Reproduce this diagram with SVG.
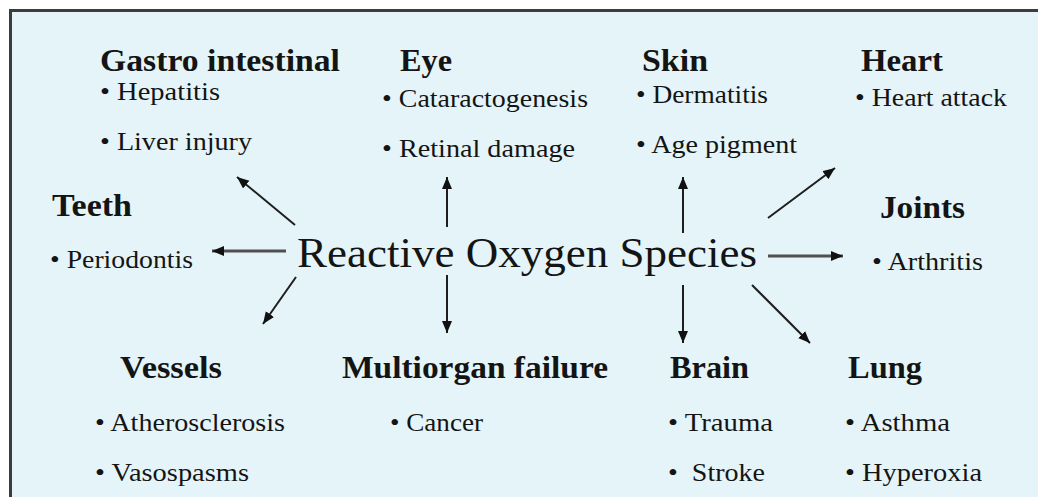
<svg xmlns="http://www.w3.org/2000/svg" width="1038" height="497" viewBox="0 0 1038 497">
<style>
text{fill:#141414}
.h{font-weight:bold;font-size:31px}
.b{font-size:26px}
.t{font-size:43px}
.c{stroke:#1e1e1e;stroke-width:2;fill:none;marker-end:url(#ah)}
.g{stroke:#505050;stroke-width:3;fill:none;marker-end:url(#ah)}
</style>
<defs>
<marker id="ah" markerUnits="userSpaceOnUse" markerWidth="13" markerHeight="11" refX="12" refY="5" orient="auto" viewBox="0 0 13 11">
<path d="M0,0 L12,5 L0,10 z" fill="#111"/>
</marker>
</defs>
<rect x="0" y="0" width="1038" height="497" fill="#ffffff"/>
<rect x="10.5" y="10.5" width="1040" height="500" fill="#e4f4f8" stroke="#3c3c3c" stroke-width="3"/>
<g id="connectors">
<line class="c" x1="295" y1="225" x2="237" y2="177"/>
<line class="c" x1="447" y1="227" x2="447" y2="177"/>
<line class="g" x1="286" y1="251" x2="212" y2="251"/>
<line class="c" x1="296" y1="277" x2="263" y2="324"/>
<line class="c" x1="447" y1="275" x2="447" y2="333"/>
<line class="c" x1="683" y1="233" x2="683" y2="177"/>
<line class="c" x1="768" y1="218" x2="835" y2="168"/>
<line class="g" x1="768" y1="256" x2="843" y2="256"/>
<line class="c" x1="683" y1="285" x2="683" y2="343"/>
<line class="c" x1="752" y1="285" x2="810" y2="343"/>
</g>
<g font-family="Liberation Serif, Times New Roman, serif">
<g id="ros">
<text class="t" x="297" y="267" textLength="460" lengthAdjust="spacingAndGlyphs">Reactive Oxygen Species</text>
</g>
<g id="gastro">
<text class="h" x="100" y="71" textLength="240" lengthAdjust="spacingAndGlyphs">Gastro intestinal</text>
<text class="b" x="100" y="100" textLength="120" lengthAdjust="spacingAndGlyphs">• Hepatitis</text>
<text class="b" x="100" y="150" textLength="152" lengthAdjust="spacingAndGlyphs">• Liver injury</text>
</g>
<g id="eye">
<text class="h" x="400" y="71" textLength="52" lengthAdjust="spacingAndGlyphs">Eye</text>
<text class="b" x="382" y="107" textLength="206" lengthAdjust="spacingAndGlyphs">• Cataractogenesis</text>
<text class="b" x="382" y="157" textLength="193" lengthAdjust="spacingAndGlyphs">• Retinal damage</text>
</g>
<g id="skin">
<text class="h" x="642" y="71" textLength="66" lengthAdjust="spacingAndGlyphs">Skin</text>
<text class="b" x="636" y="103" textLength="132" lengthAdjust="spacingAndGlyphs">• Dermatitis</text>
<text class="b" x="636" y="153" textLength="161" lengthAdjust="spacingAndGlyphs">• Age pigment</text>
</g>
<g id="heart">
<text class="h" x="861" y="71" textLength="82" lengthAdjust="spacingAndGlyphs">Heart</text>
<text class="b" x="855" y="106" textLength="152" lengthAdjust="spacingAndGlyphs">• Heart attack</text>
</g>
<g id="teeth">
<text class="h" x="52" y="216" textLength="80" lengthAdjust="spacingAndGlyphs">Teeth</text>
<text class="b" x="50" y="268" textLength="143" lengthAdjust="spacingAndGlyphs">• Periodontis</text>
</g>
<g id="joints">
<text class="h" x="880" y="218" textLength="85" lengthAdjust="spacingAndGlyphs">Joints</text>
<text class="b" x="872" y="270" textLength="111" lengthAdjust="spacingAndGlyphs">• Arthritis</text>
</g>
<g id="vessels">
<text class="h" x="120" y="378" textLength="102" lengthAdjust="spacingAndGlyphs">Vessels</text>
<text class="b" x="95" y="431" textLength="190" lengthAdjust="spacingAndGlyphs">• Atherosclerosis</text>
<text class="b" x="95" y="481" textLength="154" lengthAdjust="spacingAndGlyphs">• Vasospasms</text>
</g>
<g id="multiorgan">
<text class="h" x="342" y="378" textLength="266" lengthAdjust="spacingAndGlyphs">Multiorgan failure</text>
<text class="b" x="390" y="431" textLength="93" lengthAdjust="spacingAndGlyphs">• Cancer</text>
</g>
<g id="brain">
<text class="h" x="670" y="378" textLength="79" lengthAdjust="spacingAndGlyphs">Brain</text>
<text class="b" x="668" y="431" textLength="105" lengthAdjust="spacingAndGlyphs">• Trauma</text>
<text class="b" x="668" y="481" textLength="97" lengthAdjust="spacingAndGlyphs" xml:space="preserve">•  Stroke</text>
</g>
<g id="lung">
<text class="h" x="848" y="378" textLength="74" lengthAdjust="spacingAndGlyphs">Lung</text>
<text class="b" x="845" y="431" textLength="105" lengthAdjust="spacingAndGlyphs">• Asthma</text>
<text class="b" x="845" y="481" textLength="137" lengthAdjust="spacingAndGlyphs">• Hyperoxia</text>
</g>
</g>
</svg>
